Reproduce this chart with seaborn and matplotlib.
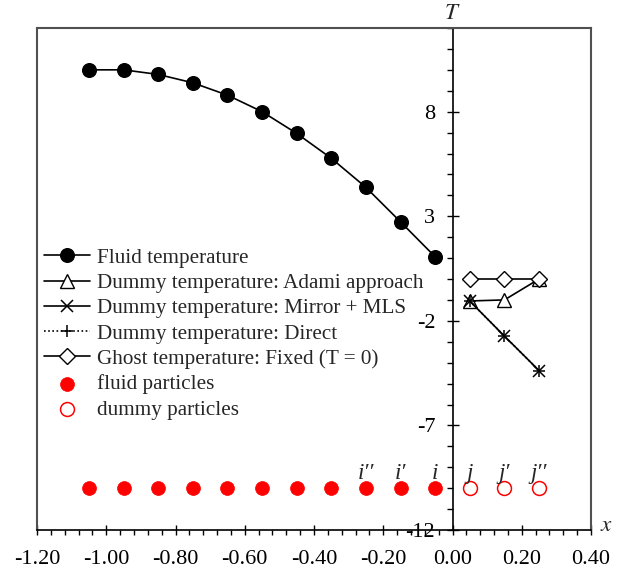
import matplotlib
matplotlib.use("Agg")
import matplotlib.pyplot as plt
from matplotlib.ticker import FixedLocator, MultipleLocator, FormatStrFormatter
from matplotlib.lines import Line2D
import seaborn as sns

# Particle positions along x
x_fluid = [-1.05, -0.95, -0.85, -0.75, -0.65, -0.55, -0.45, -0.35, -0.25, -0.15, -0.05]
x_dummy = [0.05, 0.15, 0.25]

# Temperatures
T_fluid = [10.0, 10.0, 9.78, 9.38, 8.79, 8.0, 6.96, 5.77, 4.38, 2.73, 1.06]
T_adami = [-1.05, -1.0, 0.0]
T_mirror = [-1.06, -2.73, -4.38]
T_direct = [-1.06, -2.73, -4.38]
T_ghost = [0.0, 0.0, 0.0]

# Row of particles drawn under the curves
particle_row = -10.0
fluid_names = ["i\u2032\u2032", "i\u2032", "i"]
fluid_named_x = [-0.25, -0.15, -0.05]
dummy_names = ["j", "j\u2032", "j\u2032\u2032"]

y_major = [-12, -7, -2, 3, 8]

sns.set_theme(style="white")
plt.rcParams["font.family"] = ["Liberation Serif", "DejaVu Serif"]
plt.rcParams["mathtext.fontset"] = "stix"
plt.rcParams["axes.unicode_minus"] = False

FS = 15.2

fig = plt.figure(figsize=(6.22, 5.70), dpi=100)
ax = fig.add_axes([37 / 622, 40 / 570, (591 - 37) / 622, (530 - 28) / 570])

lw = 1.2
sns.lineplot(x=x_fluid, y=T_fluid, ax=ax, color="black", linewidth=lw,
             marker="o", markersize=9.8, markerfacecolor="black",
             markeredgecolor="black", markeredgewidth=1,
             label="Fluid temperature")
sns.lineplot(x=x_dummy, y=T_adami, ax=ax, color="black", linewidth=lw,
             marker="^", markersize=9.5, markerfacecolor="white",
             markeredgecolor="black", markeredgewidth=1,
             label="Dummy temperature: Adami approach")
sns.lineplot(x=x_dummy, y=T_mirror, ax=ax, color="black", linewidth=lw,
             marker="x", markersize=8, markeredgecolor="black",
             markeredgewidth=1.1,
             label="Dummy temperature: Mirror + MLS")
sns.lineplot(x=x_dummy, y=T_direct, ax=ax, color="black", linewidth=lw,
             linestyle=(0, (1, 1.5)), marker="+", markersize=8,
             markeredgecolor="black", markeredgewidth=1.1,
             label="Dummy temperature: Direct")
sns.lineplot(x=x_dummy, y=T_ghost, ax=ax, color="black", linewidth=lw,
             marker="D", markersize=8, markerfacecolor="white",
             markeredgecolor="black", markeredgewidth=1,
             label="Ghost temperature: Fixed (T = 0)")

sns.scatterplot(x=x_fluid, y=[particle_row] * len(x_fluid), ax=ax,
                color="#ff0000", edgecolor="#ff0000", s=100, linewidth=0.5,
                label="fluid particles")
sns.scatterplot(x=x_dummy, y=[particle_row] * len(x_dummy), ax=ax,
                color="white", edgecolor="#ff0000", s=100, linewidth=1.1,
                label="dummy particles")

# Particle names
for xv, name in zip(fluid_named_x + x_dummy, fluid_names + dummy_names):
    ax.text(xv, -9.55, name, ha="center", va="baseline", fontsize=FS + 1.5,
            fontstyle="italic")

ax.set_xlim(-1.2, 0.4)
ax.set_ylim(-12, 12)
ax.set_xlabel("")
ax.set_ylabel("")

# Axes: vertical axis through x = 0, frame around the whole plot
ax.spines["left"].set_position(("data", 0))
for side in ("left", "bottom"):
    ax.spines[side].set_color("black")
    ax.spines[side].set_linewidth(1.2)
for side in ("top", "right"):
    ax.spines[side].set_color("#505050")
    ax.spines[side].set_linewidth(1.5)
ax.add_line(Line2D([0, 0], [0, 1], transform=ax.transAxes, color="#505050",
                   linewidth=1.5, clip_on=False))

ax.xaxis.set_major_locator(MultipleLocator(0.2))
ax.xaxis.set_minor_locator(MultipleLocator(0.04))
ax.xaxis.set_major_formatter(FormatStrFormatter("%.2f"))
ax.yaxis.set_major_locator(FixedLocator(y_major))
ax.yaxis.set_minor_locator(MultipleLocator(1))

ax.tick_params(axis="both", which="both", bottom=True, left=True,
               top=False, right=False, colors="black", labelsize=FS + 0.8)
ax.tick_params(axis="y", which="major", direction="inout", length=9, width=1,
               pad=8)
ax.tick_params(axis="y", which="minor", direction="out", length=4, width=1)
ax.tick_params(axis="x", which="major", direction="inout", length=7, width=1,
               pad=11)
ax.tick_params(axis="x", which="minor", direction="out", length=3.5, width=1)

ax.text(0.0, 1.008, "$T$", transform=ax.get_xaxis_transform(), ha="center",
        va="bottom", fontsize=FS + 1.5)
ax.text(1.017, 0.008, "$x$", transform=ax.transAxes, ha="left",
        va="center", fontsize=FS + 1.5)

leg = ax.legend(loc="upper left", bbox_to_anchor=(44 / 622, 1 - 248 / 570),
                bbox_transform=fig.transFigure, frameon=False, fontsize=FS,
                numpoints=1, scatterpoints=1, handlelength=2.2,
                handletextpad=0.3, labelspacing=0.26, borderpad=0,
                borderaxespad=0)

fig.savefig("out.png", dpi=100)
